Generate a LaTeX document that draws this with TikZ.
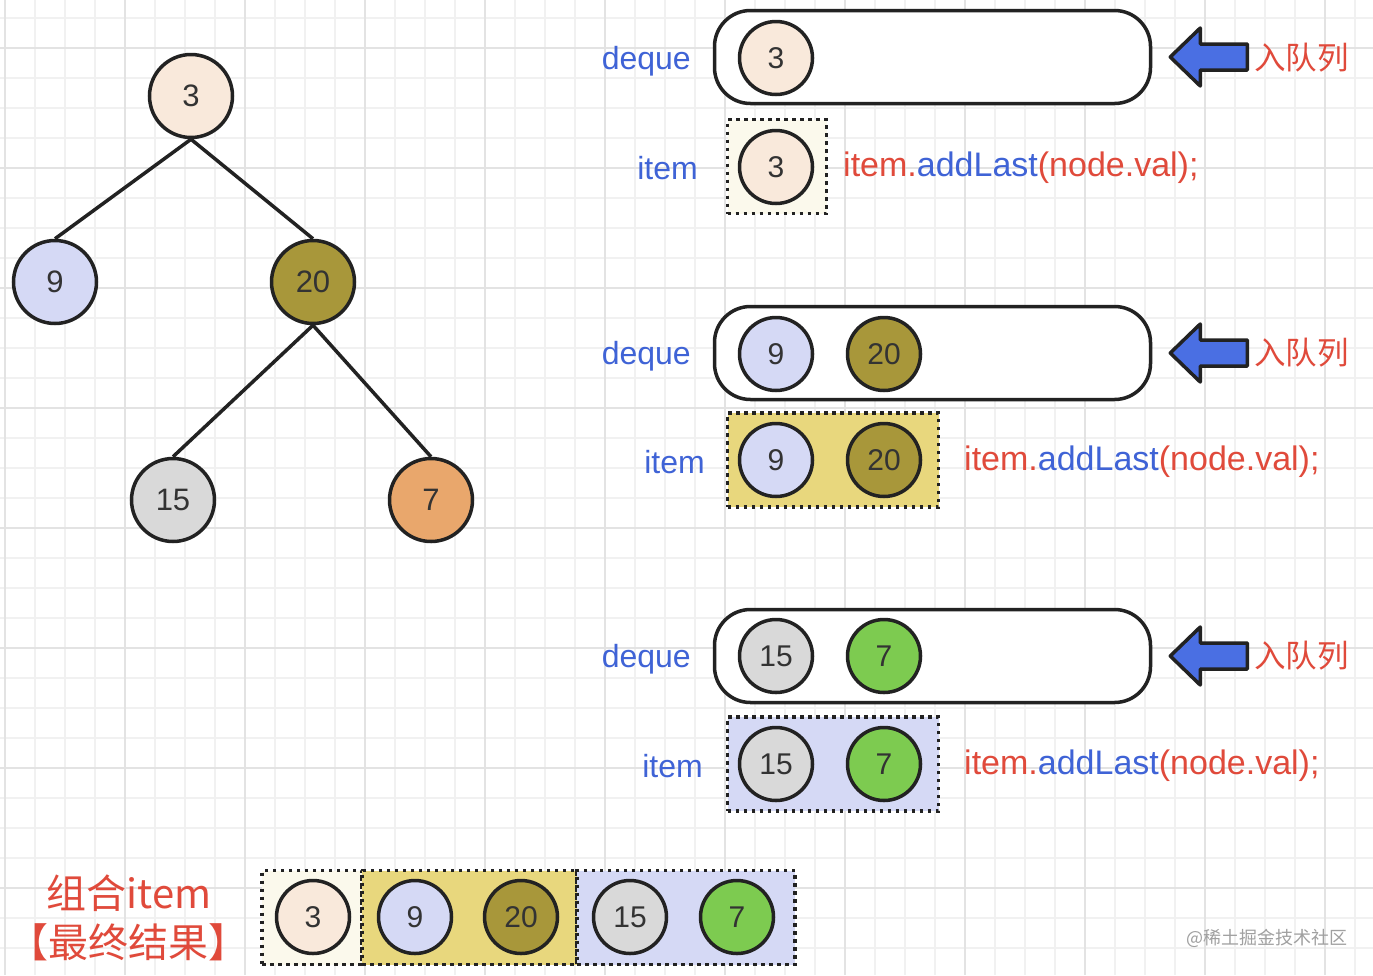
\documentclass[tikz,border=0pt]{standalone}
\usepackage{fontspec}
\setmainfont{Liberation Sans}
\newfontfamily\cjk{Noto Sans CJK SC}
\definecolor{gminor}{HTML}{F1F1F1}
\definecolor{gmajor}{HTML}{E3E3E3}
\definecolor{ink}{HTML}{222222}
\definecolor{numc}{HTML}{333333}
\definecolor{cpeach}{HTML}{F9E9DB}
\definecolor{clav}{HTML}{D5D9F5}
\definecolor{colive}{HTML}{A8973A}
\definecolor{cgrey}{HTML}{D9D9D9}
\definecolor{corange}{HTML}{E9A76C}
\definecolor{cgreen}{HTML}{7DCB50}
\definecolor{bcream}{HTML}{FBF9EC}
\definecolor{byellow}{HTML}{E8D77D}
\definecolor{blav}{HTML}{D5D9F5}
\definecolor{tblue}{HTML}{3F63D6}
\definecolor{tred}{HTML}{E04A3B}
\definecolor{arrblue}{HTML}{4A6FE3}
\definecolor{wmark}{HTML}{A0A0A0}
\begin{document}
\begin{tikzpicture}[x=1pt,y=-1pt,
  gridminor/.style={draw=gminor,line width=1.5pt},
  gridmajor/.style={draw=gmajor,line width=1.5pt},
  treenode/.style={circle,draw=ink,line width=3.5pt,minimum size=83pt,inner sep=0pt,text=numc,font=\fontsize{31}{36}\selectfont},
  qnode/.style={circle,draw=ink,line width=3.5pt,minimum size=73pt,inner sep=0pt,text=numc,font=\fontsize{30}{35}\selectfont},
  edge/.style={draw=ink,line width=3.5pt},
  dequebox/.style={draw=ink,line width=3.5pt,rounded corners=36pt,minimum width=436pt,minimum height=93pt,inner sep=0pt,fill=white},
  itembox/.style={draw=ink,line width=3.5pt,dash pattern=on 3.5pt off 4.5pt,minimum height=94pt,inner sep=0pt},
  lbl/.style={text=tblue,font=\fontsize{32}{38}\selectfont,inner sep=0pt},
  code/.style={font=\fontsize{34}{40}\selectfont,inner sep=0pt,text=tred},
  enq/.style={text=tred,font=\cjk\fontsize{31.5}{36}\selectfont,inner sep=0pt},
  blockarrow/.style={fill=arrblue,draw=ink,line width=3.5pt,line join=round},
  result/.style={text=tred,font=\cjk\fontsize{40}{48}\selectfont,inner sep=0pt}
]
\useasboundingbox (0,0) rectangle (1373,975);
\fill[white] (0,0) rectangle (1373,975);
% grid
\foreach \x in {5,35,...,1373} \draw[gridminor] (\x,0) -- (\x,975);
\foreach \y in {18,48,...,975} \draw[gridminor] (0,\y) -- (1373,\y);
\foreach \x in {5,125,...,1373} \draw[gridmajor] (\x,0) -- (\x,975);
\foreach \y in {48,168,...,975} \draw[gridmajor] (0,\y) -- (1373,\y);

% tree
\node[treenode,fill=cpeach] (t3) at (191,96) {3};
\node[treenode,fill=clav] (t9) at (55,282) {9};
\node[treenode,fill=colive] (t20) at (313,282) {20};
\node[treenode,fill=cgrey] (t15) at (173,500) {15};
\node[treenode,fill=corange] (t7) at (431,500) {7};
\draw[edge] (t3.south) -- (t9.north);
\draw[edge] (t3.south) -- (t20.north);
\draw[edge] (t20.south) -- (t15.north);
\draw[edge] (t20.south) -- (t7.north);

% level 1
\node[dequebox] (dq1) at (932.5,57) {};
\node[qnode,fill=cpeach] (d1a) at (776,58) {3};
\node[lbl,anchor=east] (dl1) at (691,61) {deque};
\node[itembox,fill=bcream,minimum width=99pt] (ib1) at (777,166.5) {};
\node[qnode,fill=cpeach] (i1a) at (776,167) {3};
\node[lbl,anchor=east] (il1) at (698,168) {item};
\node[code,anchor=west] (c1) at (843,168) {item.\textcolor{tblue}{addLast}(node.val);};
\coordinate (a1) at ([xshift=18pt]dq1.east);
\draw[blockarrow] (a1) -- ++(30,-29) -- ++(0,16) -- ++(47,0) -- ++(0,26) -- ++(-47,0) -- ++(0,16) -- cycle;
\node[enq,anchor=west] (e1) at (1254,58) {入队列};

% level 2
\node[dequebox] (dq2) at (932.5,353) {};
\node[qnode,fill=clav] (d2a) at (776,354) {9};
\node[qnode,fill=colive] (d2b) at (884,354) {20};
\node[lbl,anchor=east] (dl2) at (691,356) {deque};
\node[itembox,fill=byellow,minimum width=211pt] (ib2) at (833,460) {};
\node[qnode,fill=clav] (i2a) at (776,460) {9};
\node[qnode,fill=colive] (i2b) at (884,460) {20};
\node[lbl,anchor=east] (il2) at (705,462) {item};
\node[code,anchor=west] (c2) at (964,462) {item.\textcolor{tblue}{addLast}(node.val);};
\coordinate (a2) at ([xshift=18pt]dq2.east);
\draw[blockarrow] (a2) -- ++(30,-29) -- ++(0,16) -- ++(47,0) -- ++(0,26) -- ++(-47,0) -- ++(0,16) -- cycle;
\node[enq,anchor=west] (e2) at (1254,353) {入队列};

% level 3
\node[dequebox] (dq3) at (932.5,656) {};
\node[qnode,fill=cgrey] (d3a) at (776,656) {15};
\node[qnode,fill=cgreen] (d3b) at (884,656) {7};
\node[lbl,anchor=east] (dl3) at (691,659) {deque};
\node[itembox,fill=blav,minimum width=211pt] (ib3) at (833,764) {};
\node[qnode,fill=cgrey] (i3a) at (776,764) {15};
\node[qnode,fill=cgreen] (i3b) at (884,764) {7};
\node[lbl,anchor=east] (il3) at (703,766) {item};
\node[code,anchor=west] (c3) at (964,766) {item.\textcolor{tblue}{addLast}(node.val);};
\coordinate (a3) at ([xshift=18pt]dq3.east);
\draw[blockarrow] (a3) -- ++(30,-29) -- ++(0,16) -- ++(47,0) -- ++(0,26) -- ++(-47,0) -- ++(0,16) -- cycle;
\node[enq,anchor=west] (e3) at (1254,656) {入队列};

% result row
\node[itembox,fill=bcream,minimum width=100pt] (rb1) at (312,917.5) {};
\node[itembox,fill=byellow,minimum width=215pt] (rb2) at (469.5,917.5) {};
\node[itembox,fill=blav,minimum width=218pt] (rb3) at (686,917.5) {};
\node[qnode,fill=cpeach] (r1) at (313,917) {3};
\node[qnode,fill=clav] (r2) at (415,917) {9};
\node[qnode,fill=colive] (r3) at (521,917) {20};
\node[qnode,fill=cgrey] (r4) at (630,917) {15};
\node[qnode,fill=cgreen] (r5) at (737,917) {7};
\node[result] (res1) at (129,893) {组合item};
\node[result] (res2) at (129,942) {【最终结果】};

% watermark
\node[text=wmark,font=\cjk\fontsize{18}{22}\selectfont,anchor=east,inner sep=0pt] (wm) at (1348,938) {@稀土掘金技术社区};
\end{tikzpicture}
\end{document}
